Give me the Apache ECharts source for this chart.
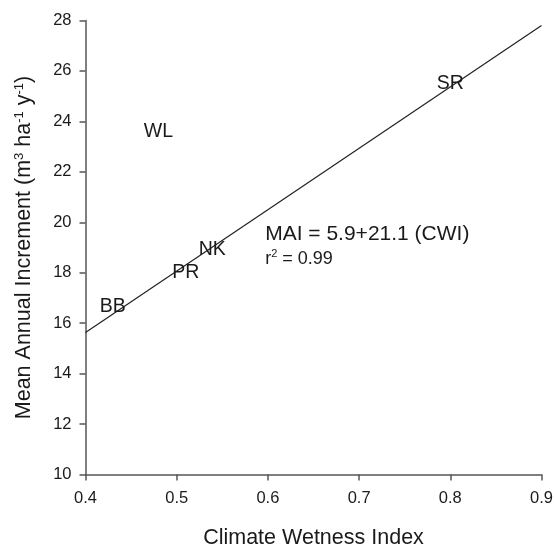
<!DOCTYPE html>
<html>
<head>
<meta charset="utf-8">
<script src="https://cdn.jsdelivr.net/npm/echarts@6/dist/echarts.min.js"></script>
<style>
html,body{margin:0;padding:0;background:#fff;}
#chart{width:554px;height:546px;}
</style>
</head>
<body>
<div id="chart"></div>
<script>
// Site labels and values
var siteNames = ['SR', 'WL', 'NK', 'PR', 'BB'];
var cwi = [0.80, 0.48, 0.539, 0.51, 0.43];
var mai = [25.5, 23.6, 18.9, 18.0, 16.66];

// Regression line endpoints
var fitX = [0.4, 0.9];
var fitY = [15.63, 27.8];

// Axis ticks
var xTicks = [0.4, 0.5, 0.6, 0.7, 0.8, 0.9];
var yTicks = [10, 12, 14, 16, 18, 20, 22, 24, 26, 28];

// Annotation anchors
var eqText = ['{a|MAI = 5.9+21.1 (CWI)}', '{b|r}{s|2}{b| = 0.99}'];
var eqX = [0.597, 0.597];
var eqY = [19.53, 18.56];

var FONT = '"Liberation Sans", Arial, sans-serif';
var TXT = '#1a1a1a';
var AX = '#555';

var chart = echarts.init(document.getElementById('chart'), null, {renderer: 'canvas'});

var siteData = siteNames.map(function (n, i) { return {name: n, value: [cwi[i], mai[i]]}; });
var fitData = fitX.map(function (x, i) { return [x, fitY[i]]; });
var eqData = eqText.map(function (t, i) { return {name: t, value: [eqX[i], eqY[i]]}; });

chart.setOption({
  animation: false,
  backgroundColor: '#fff',
  grid: {left: 85.5, right: 12.5, top: 20.4, bottom: 71.4, containLabel: false, outerBoundsMode: 'none'},
  xAxis: {
    type: 'value', min: xTicks[0], max: xTicks[xTicks.length - 1], interval: 0.1,
    name: 'Climate Wetness Index', nameLocation: 'middle', nameGap: 52,
    nameTextStyle: {fontFamily: FONT, fontSize: 21.5, color: TXT},
    axisLine: {show: true, lineStyle: {color: AX, width: 1.5}},
    axisTick: {show: true, inside: false, length: 6, lineStyle: {color: AX, width: 1.5}},
    axisLabel: {fontFamily: FONT, fontSize: 16.5, color: TXT, margin: 15,
      formatter: function (v) { return v.toFixed(1); }},
    splitLine: {show: false}
  },
  yAxis: {
    type: 'value', min: yTicks[0], max: yTicks[yTicks.length - 1], interval: 2,
    name: '{a|Mean Annual Increment (m}{s|3}{a| ha}{s|-1}{a| y}{s|-1}{a|)}',
    nameLocation: 'middle', nameGap: 49, nameRotate: 90,
    nameTextStyle: {fontFamily: FONT, fontSize: 21.5, color: TXT,
      rich: {
        a: {fontFamily: FONT, fontSize: 21.5, color: TXT, lineHeight: 24},
        s: {fontFamily: FONT, fontSize: 13, color: TXT, verticalAlign: 'top', lineHeight: 24}
      }},
    axisLine: {show: true, lineStyle: {color: AX, width: 1.5}},
    axisTick: {show: true, inside: false, length: 6, lineStyle: {color: AX, width: 1.5}},
    axisLabel: {fontFamily: FONT, fontSize: 16.5, color: TXT, margin: 14},
    splitLine: {show: false}
  },
  series: [
    {
      type: 'line', data: fitData, symbol: 'none', silent: true,
      lineStyle: {color: '#222', width: 1.2}, z: 2
    },
    {
      type: 'scatter', data: siteData, symbolSize: 0, silent: true, z: 3,
      itemStyle: {opacity: 1},
      label: {show: true, position: 'inside', formatter: '{b}',
        fontFamily: FONT, fontSize: 19.5, color: TXT}
    },
    {
      type: 'scatter', data: eqData, symbolSize: 0, silent: true, z: 3,
      itemStyle: {opacity: 1},
      label: {show: true, position: 'right', distance: 0, formatter: '{b}',
        rich: {
          a: {fontFamily: FONT, fontSize: 21, color: TXT},
          b: {fontFamily: FONT, fontSize: 18, color: TXT, lineHeight: 20},
          s: {fontFamily: FONT, fontSize: 11, color: TXT, verticalAlign: 'top', lineHeight: 20}
        }}
    }
  ]
});
</script>
</body>
</html>
